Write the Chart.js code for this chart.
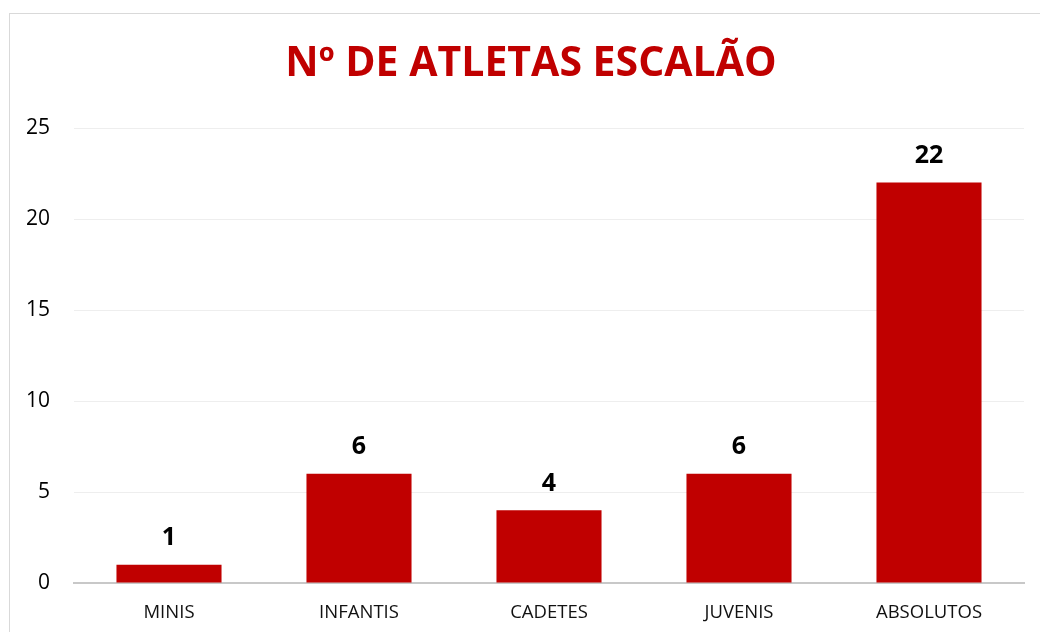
<!DOCTYPE html>
<html>
<head>
<meta charset="utf-8">
<script src="https://cdn.jsdelivr.net/npm/chart.js@4"></script>
<style>
  html, body { margin: 0; padding: 0; background: #fff; }
  #wrap { position: relative; width: 1040px; height: 632px; overflow: hidden; }
  #frame { position: absolute; left: 9px; top: 13px; width: 1100px; height: 700px; border: 1px solid #d9d9d9; box-sizing: border-box; }
  canvas { position: absolute; left: 0; top: 0; }
</style>
</head>
<body>
<div id="wrap">
  <div id="frame"></div>
  <canvas id="chart" width="1040" height="632"></canvas>
</div>
<script>
// --- DADOS ---
const chartTitle = 'Nº DE ATLETAS ESCALÃO';
const categories = ['MINIS', 'INFANTIS', 'CADETES', 'JUVENIS', 'ABSOLUTOS'];
const athletes = [1, 6, 4, 6, 22];
const yTicks = [0, 5, 10, 15, 20, 25];

const RED = '#C00000';

// título centrado na moldura (não no canvas)
const frameTitle = {
  id: 'frameTitle',
  afterDraw(chart) {
    const ctx = chart.ctx;
    ctx.save();
    ctx.font = 'bold 41px "Open Sans"';
    ctx.fillStyle = RED;
    ctx.textAlign = 'center';
    ctx.textBaseline = 'middle';
    ctx.fillText(chartTitle, 531, 64);
    ctx.restore();
  }
};

// rótulos de valor por cima das barras
const valueLabels = {
  id: 'valueLabels',
  afterDatasetsDraw(chart) {
    const ctx = chart.ctx;
    const meta = chart.getDatasetMeta(0);
    ctx.save();
    ctx.font = 'bold 25px "Open Sans"';
    ctx.fillStyle = '#000';
    ctx.textAlign = 'center';
    ctx.textBaseline = 'bottom';
    meta.data.forEach((bar, i) => {
      ctx.fillText(athletes[i], bar.x, bar.y - 14);
    });
    ctx.restore();
  }
};

const ctx = document.getElementById('chart').getContext('2d');
new Chart(ctx, {
  type: 'bar',
  data: {
    labels: categories,
    datasets: [{
      data: athletes,
      backgroundColor: RED,
      categoryPercentage: 1,
      barPercentage: 0.553
    }]
  },
  options: {
    responsive: false,
    animation: false,
    layout: { padding: { left: 0, right: 16, top: 128, bottom: 0 } },
    plugins: {
      legend: { display: false },
      tooltip: { enabled: false },
      title: { display: false }
    },
    scales: {
      x: {
        afterFit(scale) { scale.height = 49; },
        grid: { display: false, drawTicks: false },
        border: { color: '#c8c8c8', width: 2 },
        ticks: { color: '#111', padding: 19, font: { family: '"Open Sans"', size: 18.5 } }
      },
      y: {
        min: 0,
        max: 25,
        afterBuildTicks(scale) { scale.ticks = yTicks.map(v => ({ value: v })); },
        afterFit(scale) { scale.width = 74; },
        grid: { color: '#eeeeee', drawTicks: false },
        border: { display: false },
        ticks: { color: '#000', padding: 24, font: { family: '"Open Sans"', size: 21 } }
      }
    }
  },
  plugins: [valueLabels, frameTitle]
});
</script>
</body>
</html>
